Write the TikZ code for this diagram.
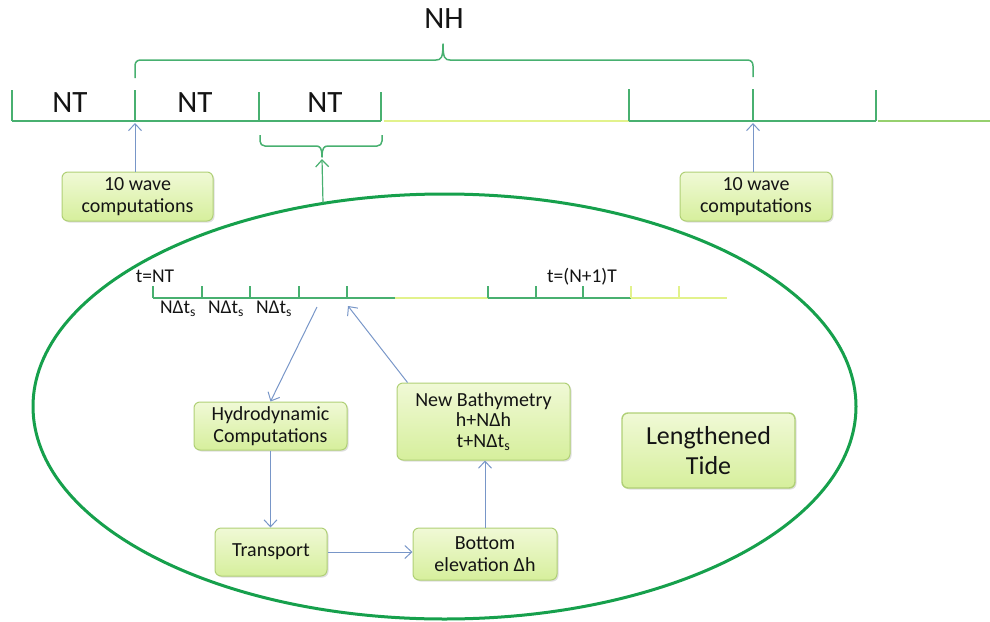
\documentclass[tikz,border=0pt]{standalone}
\usepackage{fontspec}
\setmainfont{Carlito}
\usetikzlibrary{arrows.meta,shadows,calc}
\definecolor{tlgreen}{RGB}{72,176,112}
\definecolor{ellgreen}{RGB}{22,160,76}
\definecolor{tlyellow}{RGB}{226,242,140}
\definecolor{tllight}{RGB}{150,208,110}
\definecolor{arrblue}{RGB}{120,150,200}
\definecolor{boxtop}{RGB}{240,249,214}
\definecolor{boxbot}{RGB}{214,239,156}
\definecolor{boxborder}{RGB}{176,208,118}
\definecolor{txt}{RGB}{20,20,20}
\begin{document}
\begin{tikzpicture}[x=1pt,y=-1pt,
  box/.style={draw=boxborder, line width=1pt, rounded corners=6pt,
    top color=boxtop, bottom color=boxbot, text=txt, align=center, inner sep=0pt,
    drop shadow={shadow xshift=1.5pt, shadow yshift=-1.5pt, opacity=0.25},
    font=\fontsize{20}{22}\selectfont},
  barrow/.style={draw=arrblue, line width=1pt, -{Straight Barb[length=7pt,width=13pt]}},
  garrow/.style={draw=tlgreen, line width=1.2pt, -{Straight Barb[length=7pt,width=13pt]}},
  tline/.style={line width=1.5pt},
  tick/.style={line width=1.8pt},
  bigtxt/.style={text=txt, font=\fontsize{31}{34}\selectfont, anchor=base},
  smtxt/.style={text=txt, font=\fontsize{19.5}{22}\selectfont, anchor=base},
  brace/.style={draw=tlgreen, line width=1.5pt, line join=round}
]
\useasboundingbox (0,0) rectangle (990,621);

% ---------- top timeline ----------
\draw[tline, tlgreen] (12,121) -- (381,121);
\draw[tline, tlyellow] (384,121) -- (629,121);
\draw[tline, tlgreen] (629,121) -- (876,121);
\draw[tline, tllight] (878,121) -- (990,121);
\foreach \x/\t in {12/90,135/90,259/92,381/92,629/89,753/89,876/90}
  \draw[tick, tlgreen] (\x,\t) -- (\x,121);
\coordinate (tkA) at (135,123);
\coordinate (tkB) at (753,123);

\node[bigtxt] (nt1) at (70,112) {NT};
\node[bigtxt] (nt2) at (195,112) {NT};
\node[bigtxt] (nt3) at (325,112) {NT};
\node[bigtxt] (nh) at (444,28) {NH};

% NH brace
\draw[brace] (135,78) -- (135,66) .. controls (135,62) and (137,60) .. (141,60)
  -- (436,60) .. controls (441,60) and (443,58) .. (443,44)
  .. controls (443,58) and (445,60) .. (450,60)
  -- (747,60) .. controls (751,60) and (753,62) .. (753,66) -- (753,77);
% small brace under third NT
\draw[brace] (260,135) -- (260,141) .. controls (260,144) and (262,146) .. (265,146)
  -- (316,146) .. controls (320,146) and (322,148) .. (322,157)
  .. controls (322,148) and (324,146) .. (328,146)
  -- (377,146) .. controls (380,146) and (382,144) .. (382,141) -- (382,135);
\coordinate (brTip) at (322,159);

% ---------- ellipse ----------
\draw[ellgreen, line width=3pt] (444.5,406.5) ellipse [x radius=411.5, y radius=212.5];
\coordinate (ellTop) at (323,203);
\draw[garrow] (ellTop) -- (brTip);

% ---------- wave boxes ----------
\node[box, minimum width=151pt, minimum height=49pt] (wave1) at (137.5,196.5) {10 wave\\computations};
\node[box, minimum width=152pt, minimum height=49pt] (wave2) at (756,196.5) {10 wave\\computations};
\draw[barrow] (wave1.north -| tkA) -- (tkA);
\draw[barrow] (wave2.north -| tkB) -- (tkB);

% ---------- inner timeline ----------
\draw[tline, tlgreen] (153,298) -- (395,298);
\draw[tline, tlyellow] (395,298) -- (488,298);
\draw[tline, tlgreen] (488,298) -- (631,298);
\draw[tline, tlyellow] (631,298) -- (727,298);
\foreach \x in {153,202,250,299,347,488,536,583}
  \draw[tick, tlgreen] (\x,286) -- (\x,298);
\foreach \x in {631,679}
  \draw[tick, tlyellow] (\x,286) -- (\x,298);

\node[smtxt] (tNT) at (155,282) {t=NT};
\node[smtxt] (tN1) at (582,282) {t=(N+1)T};
\node[smtxt] (d1) at (178,313) {NΔt\textsubscript{s}};
\node[smtxt] (d2) at (226,313) {NΔt\textsubscript{s}};
\node[smtxt] (d3) at (274,313) {NΔt\textsubscript{s}};
\coordinate (outPt) at (317,307);
\coordinate (inPt) at (348,306);

% ---------- process boxes ----------
\node[box, minimum width=153pt, minimum height=48pt] (hydro) at (270.5,426) {Hydrodynamic\\Computations};
\node[box, minimum width=173pt, minimum height=77pt, font=\fontsize{20}{20.5}\selectfont] (newbath) at (483.5,421.5) {New Bathymetry\\h+NΔh\\t+NΔt\textsubscript{s}};
\node[box, minimum width=112pt, minimum height=48pt] (transport) at (271,552) {Transport};
\node[box, minimum width=144pt, minimum height=52pt] (bottom) at (485,554) {Bottom\\elevation Δh};
\node[box, minimum width=173pt, minimum height=75pt, line width=1.4pt, font=\fontsize{26}{30}\selectfont] (tide) at (708.5,450.5) {Lengthened\\Tide};

\draw[barrow] (outPt) -- (hydro.north);
\draw[barrow] ($(newbath.north west)+(11,0)$) -- (inPt);
\draw[barrow] (hydro.south) -- (hydro.south |- transport.north);
\draw[barrow] (transport.east) -- (transport.east -| bottom.west);
\draw[barrow] (bottom.north) -- (bottom.north |- newbath.south);
\end{tikzpicture}
\end{document}
